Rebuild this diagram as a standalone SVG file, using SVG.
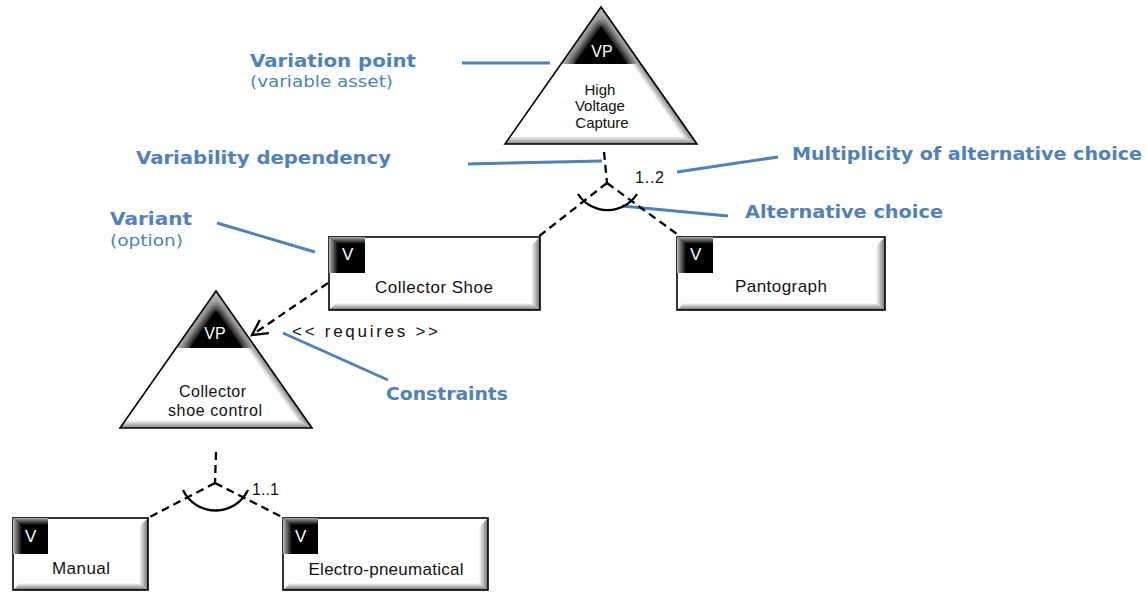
<svg xmlns="http://www.w3.org/2000/svg" xmlns:xlink="http://www.w3.org/1999/xlink" width="1147" height="592" viewBox="0 0 1147 592">
  <style>
    .node-txt { font-family: "Liberation Sans", Arial, sans-serif; fill: #111; text-anchor: middle; }
    .tag { font-family: "Liberation Sans", Arial, sans-serif; fill: #fff; }
    .lbl { font-family: "DejaVu Sans", "Liberation Sans", sans-serif; fill: #4f81bd; }
    .lbl-b { font-weight: bold; font-size: 17px; }
    .lbl-n { font-size: 16px; }
    .pointer { stroke: #4f81bd; stroke-width: 3; fill: none; stroke-linecap: butt; }
    .dep { stroke: #000; stroke-width: 2.3; fill: none; stroke-dasharray: 8 5; }
    .arc { stroke: #000; stroke-width: 2.3; fill: none; }
    .box { fill: #fff; }
    .edge { fill: none; stroke: #000; stroke-width: 1.6; }
    .bev-r { fill: url(#gR); }
    .bev-b { fill: url(#gB); }
    .icon { fill: #000; }
    .icon-l { fill: url(#gIL); }
    .icon-t { fill: url(#gIT); }
  </style>
  <defs>
    <linearGradient id="gR" x1="0" y1="0" x2="1" y2="0">
      <stop offset="0" stop-color="#ffffff"/>
      <stop offset="1" stop-color="#707070"/>
    </linearGradient>
    <linearGradient id="gB" x1="0" y1="0" x2="0" y2="1">
      <stop offset="0" stop-color="#ffffff"/>
      <stop offset="1" stop-color="#707070"/>
    </linearGradient>
    <linearGradient id="gIL" x1="0" y1="0" x2="1" y2="0">
      <stop offset="0" stop-color="#b8b8b8"/>
      <stop offset="1" stop-color="#000000"/>
    </linearGradient>
    <linearGradient id="gIT" x1="0" y1="0" x2="0" y2="1">
      <stop offset="0" stop-color="#a8a8a8"/>
      <stop offset="1" stop-color="#000000"/>
    </linearGradient>
    <!-- variation point triangle, apex at origin -->
    <linearGradient id="gTriBase" gradientUnits="userSpaceOnUse" x1="0" y1="129" x2="0" y2="137">
      <stop offset="0" stop-color="#ffffff"/>
      <stop offset="1" stop-color="#808080"/>
    </linearGradient>
    <linearGradient id="gTriRight" gradientUnits="userSpaceOnUse" x1="61.4" y1="101.6" x2="68" y2="97">
      <stop offset="0" stop-color="#ffffff"/>
      <stop offset="1" stop-color="#808080"/>
    </linearGradient>
    <clipPath id="capClip">
      <polygon points="0,0 -40,57 40,57"/>
    </clipPath>
    <filter id="soft" x="-50%" y="-50%" width="200%" height="200%">
      <feGaussianBlur stdDeviation="4"/>
    </filter>
    <g id="vp-shape">
      <polygon points="0,0 -96,137 96,137" fill="#fff"/>
      <polygon points="-96,137 96,137 80.6,129 -90.4,129" fill="url(#gTriBase)"/>
      <polygon points="40,57 96,137 80.6,129 30.2,57" fill="url(#gTriRight)"/>
      <polygon points="0,0 -40,57 40,57" fill="#b4b4b4"/>
      <g clip-path="url(#capClip)">
        <polygon points="0,19 -26.6,57 26.6,57" fill="#000" stroke="#000" stroke-width="8" filter="url(#soft)"/>
      </g>
      <polygon points="0,19 -26.6,57 26.6,57" fill="#000"/>
      <polygon points="0,0 -96,137 96,137" fill="none" stroke="#000" stroke-width="1.6"/>
    </g>
    <marker id="openArrow" markerUnits="userSpaceOnUse" markerWidth="30" markerHeight="30" refX="0" refY="0" viewBox="-20 -15 30 30" orient="auto" overflow="visible">
      <path d="M-15,-8 L0,0 L-15,8" fill="none" stroke="#000" stroke-width="2.3" stroke-dasharray="none"/>
    </marker>
  </defs>

  <!-- explanatory labels and their pointer lines -->
  <g id="annotations">
    <text class="lbl lbl-b" x="250" y="67" textLength="166" lengthAdjust="spacingAndGlyphs">Variation point</text>
    <text class="lbl lbl-n" x="250" y="87" textLength="143" lengthAdjust="spacingAndGlyphs">(variable asset)</text>
    <line class="pointer" x1="462" y1="63" x2="550" y2="63"/>

    <text class="lbl lbl-b" x="136" y="164" textLength="255" lengthAdjust="spacingAndGlyphs">Variability dependency</text>
    <line class="pointer" x1="468" y1="164" x2="602" y2="161"/>

    <text class="lbl lbl-b" x="110" y="225" textLength="82" lengthAdjust="spacingAndGlyphs">Variant</text>
    <text class="lbl lbl-n" x="110" y="246" textLength="73" lengthAdjust="spacingAndGlyphs">(option)</text>
    <line class="pointer" x1="217" y1="223" x2="315" y2="252"/>

    <text class="lbl lbl-b" x="792" y="160" textLength="350" lengthAdjust="spacingAndGlyphs">Multiplicity of alternative choice</text>
    <line class="pointer" x1="677" y1="172" x2="778" y2="157"/>

    <text class="lbl lbl-b" x="745" y="218" textLength="198" lengthAdjust="spacingAndGlyphs">Alternative choice</text>
    <line class="pointer" x1="622" y1="206" x2="728" y2="216"/>

    <text class="lbl lbl-b" x="386" y="400" textLength="122" lengthAdjust="spacingAndGlyphs">Constraints</text>
    <line class="pointer" x1="283" y1="333" x2="388" y2="380"/>
  </g>

  <!-- dependencies, alternative-choice arcs and the requires constraint -->
  <g id="connectors">
    <line class="dep" x1="604" y1="152" x2="607" y2="183"/>
    <line class="dep" x1="607" y1="183" x2="538" y2="237"/>
    <line class="dep" x1="607" y1="183" x2="681" y2="237"/>
    <path class="arc" d="M578,194 A35,35 0 0 0 637,194"/>
    <text class="node-txt" x="635" y="183" font-size="16" textLength="29" style="text-anchor:start">1..2</text>

    <line class="dep" x1="328" y1="283" x2="252" y2="335" marker-end="url(#openArrow)"/>
    <text class="node-txt" x="292" y="337" font-size="17" textLength="146" style="text-anchor:start">&lt;&lt; requires &gt;&gt;</text>

    <line class="dep" x1="216" y1="452" x2="215" y2="483"/>
    <line class="dep" x1="215" y1="483" x2="148" y2="518"/>
    <line class="dep" x1="215" y1="483" x2="284" y2="518"/>
    <path class="arc" d="M183,490 A36,36 0 0 0 248,490"/>
    <text class="node-txt" x="252" y="495" font-size="16" textLength="27" style="text-anchor:start">1..1</text>
  </g>

  <!-- variation points -->
  <g id="vp-high-voltage-capture">
    <use xlink:href="#vp-shape" href="#vp-shape" transform="translate(601,7)"/>
    <text class="tag" x="602" y="57" font-size="16" text-anchor="middle">VP</text>
    <text class="node-txt" font-size="15">
      <tspan x="602" y="95">High</tspan>
      <tspan x="602" y="111">Voltage</tspan>
      <tspan x="602" y="128">Capture</tspan>
    </text>
  </g>

  <g id="vp-collector-shoe-control">
    <use xlink:href="#vp-shape" href="#vp-shape" transform="translate(216,291)"/>
    <text class="tag" x="215" y="339" font-size="16" text-anchor="middle">VP</text>
    <text class="node-txt" font-size="16">
      <tspan x="215" y="397" textLength="67">Collector</tspan>
      <tspan x="215" y="416" textLength="94">shoe control</tspan>
    </text>
  </g>

  <!-- variants -->
  <g id="v-collector-shoe">
    <rect class="box" x="329" y="237" width="211" height="73"/>
    <polygon class="bev-r" points="540,237 540,310 531,303 531,246"/>
    <polygon class="bev-b" points="329,310 540,310 531,303 336,303"/>
    <rect class="edge" x="329" y="237" width="211" height="73"/>
    <rect class="icon" x="329" y="237" width="36" height="36"/>
    <polygon class="icon-l" points="329,237 338,244 338,273 329,273"/>
    <polygon class="icon-t" points="329,237 365,237 365,244 338,244"/>
    <text class="tag" x="342" y="260" font-size="17">V</text>
    <text class="node-txt" x="434" y="293" font-size="17" textLength="118">Collector Shoe</text>
  </g>

  <g id="v-pantograph">
    <rect class="box" x="677" y="237" width="208" height="73"/>
    <polygon class="bev-r" points="885,237 885,310 876,303 876,246"/>
    <polygon class="bev-b" points="677,310 885,310 876,303 684,303"/>
    <rect class="edge" x="677" y="237" width="208" height="73"/>
    <rect class="icon" x="677" y="237" width="36" height="36"/>
    <polygon class="icon-l" points="677,237 686,244 686,273 677,273"/>
    <polygon class="icon-t" points="677,237 713,237 713,244 686,244"/>
    <text class="tag" x="690" y="260" font-size="17">V</text>
    <text class="node-txt" x="781" y="292" font-size="17" textLength="92">Pantograph</text>
  </g>

  <g id="v-manual">
    <rect class="box" x="13" y="518" width="135" height="72"/>
    <polygon class="bev-r" points="148,518 148,590 139,583 139,527"/>
    <polygon class="bev-b" points="13,590 148,590 139,583 20,583"/>
    <rect class="edge" x="13" y="518" width="135" height="72"/>
    <rect class="icon" x="13" y="518" width="35" height="36"/>
    <polygon class="icon-l" points="13,518 22,525 22,554 13,554"/>
    <polygon class="icon-t" points="13,518 48,518 48,525 22,525"/>
    <text class="tag" x="25" y="542" font-size="17">V</text>
    <text class="node-txt" x="81" y="574" font-size="17" textLength="58">Manual</text>
  </g>

  <g id="v-electro-pneumatical">
    <rect class="box" x="283" y="518" width="205" height="72"/>
    <polygon class="bev-r" points="488,518 488,590 479,583 479,527"/>
    <polygon class="bev-b" points="283,590 488,590 479,583 290,583"/>
    <rect class="edge" x="283" y="518" width="205" height="72"/>
    <rect class="icon" x="283" y="518" width="35" height="36"/>
    <polygon class="icon-l" points="283,518 292,525 292,554 283,554"/>
    <polygon class="icon-t" points="283,518 318,518 318,525 292,525"/>
    <text class="tag" x="295" y="542" font-size="17">V</text>
    <text class="node-txt" x="386" y="575" font-size="17" textLength="155">Electro-pneumatical</text>
  </g>
</svg>
